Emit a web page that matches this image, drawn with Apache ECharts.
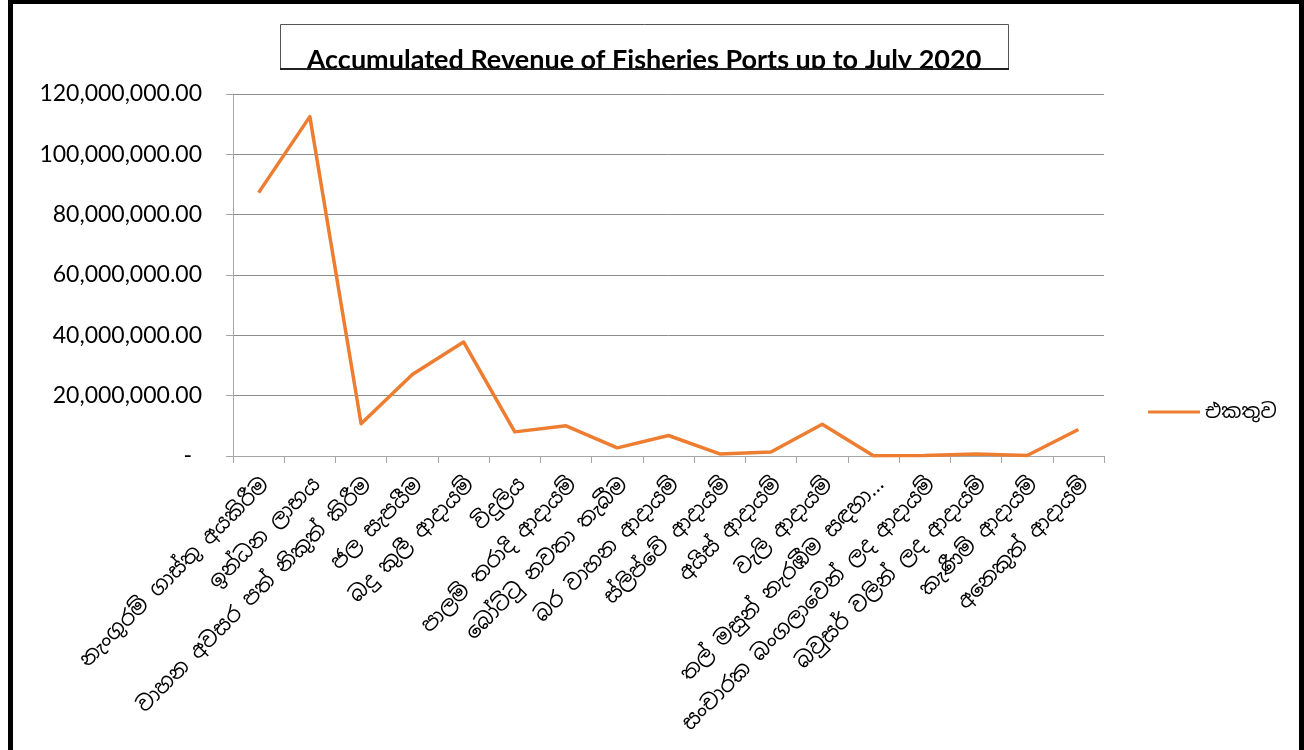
<!DOCTYPE html>
<html>
<head>
<meta charset="utf-8">
<script src="https://cdn.jsdelivr.net/npm/echarts@6/dist/echarts.min.js"></script>
<style>
  html, body { margin: 0; padding: 0; background: #fff; }
  #chart { width: 1304px; height: 750px; }
</style>
</head>
<body>
<div id="chart"></div>
<script>
// Revenue categories (Sinhala)
const categories = [
  'නැංගුරම් ගාස්තු අයකිරීම',
  'ඉන්ධන ලාභය',
  'වාහන අවසර පත් නිකුත් කිරීම',
  'ජල සැපයීම',
  'බදු කුලී ආදායම්',
  'විදුලිය',
  'පාලම් තරාදි ආදායම්',
  'බෝට්ටු නවතා තැබීම',
  'බර වාහන ආදායම්',
  'ස්ලිප්වේ ආදායම්',
  'අයිස් ආදායම්',
  'වැලි ආදායම්',
  'තල් මසුන් නැරඹීම සඳහා…',
  'සංචාරක බංගලාවෙන් ලද ආදායම්',
  'බවුසර් වලින් ලද ආදායම්',
  'කැණීම් ආදායම්',
  'අනෙකුත් ආදායම්'
];

// Accumulated revenue (Rs.)
const totals = [
  87300000, 112500000, 10700000, 27000000, 37800000, 8000000,
  10000000, 2700000, 6800000, 700000, 1300000, 10500000,
  100000, 200000, 700000, 150000, 8800000
];

const seriesName = 'එකතුව';
const titleText = 'Accumulated Revenue of Fisheries Ports up to July 2020';

const yMin = 0, yMax = 120000000, yStep = 20000000;

const sinhalaFont = '"Noto Sans Sinhala", "Noto Serif Sinhala", "Iskoola Pota", "Noto Sans", sans-serif';
const numFont = 'Lato, "Open Sans", sans-serif';

const chart = echarts.init(document.getElementById('chart'), null, { renderer: 'canvas' });

chart.setOption({
  backgroundColor: '#fff',
  animation: false,
  grid: { left: 233, right: 200, top: 94, bottom: 294, containLabel: false },
  legend: {
    left: 1143, top: 397,
    itemWidth: 52, itemHeight: 14, itemGap: 4,
    icon: 'path://M0,6 L52,6 L52,9 L0,9 Z',
    textStyle: { fontFamily: sinhalaFont, fontSize: 20, color: '#000' },
    data: [seriesName]
  },
  xAxis: {
    type: 'category',
    data: categories,
    boundaryGap: true,
    axisLine: { lineStyle: { color: '#a6a6a6', width: 1 } },
    axisTick: { show: true, length: 7, alignWithLabel: false, lineStyle: { color: '#a6a6a6' } },
    axisLabel: {
      interval: 0, rotate: 45, margin: 18,
      verticalAlign: 'top',
      fontFamily: sinhalaFont, fontSize: 21, color: '#000'
    }
  },
  yAxis: {
    type: 'value',
    min: yMin, max: yMax, interval: yStep,
    axisLine: { show: true, lineStyle: { color: '#a6a6a6', width: 1 } },
    axisTick: { show: true, length: 7, lineStyle: { color: '#a6a6a6' } },
    splitLine: { lineStyle: { color: '#8c8c8c', width: 1 } },
    axisLabel: {
      margin: 31,
      fontFamily: numFont, fontSize: 23, color: '#000',
      formatter: function (v) {
        if (v === 0) return '{z|-}';
        return v.toLocaleString('en-US', { minimumFractionDigits: 2, maximumFractionDigits: 2 });
      },
      rich: { z: { fontFamily: numFont, fontSize: 23, color: '#000', padding: [0, 10, 0, 0] } }
    }
  },
  series: [{
    name: seriesName,
    type: 'line',
    data: totals,
    showSymbol: false,
    symbol: 'none',
    lineStyle: { color: '#ed7d31', width: 3.5, join: 'round' },
    itemStyle: { color: '#ed7d31' }
  }],
  graphic: [
    // outer frame
    { type: 'rect', shape: { x: 8, y: 0, width: 5, height: 750 }, style: { fill: '#000' }, z: 100 },
    { type: 'rect', shape: { x: 8, y: 0, width: 1296, height: 4 }, style: { fill: '#000' }, z: 100 },
    { type: 'rect', shape: { x: 1299, y: 0, width: 5, height: 750 }, style: { fill: '#000' }, z: 100 },
    // title box; the heading sits low so its descenders run under the bottom edge
    { type: 'rect', shape: { x: 280.5, y: 24.5, width: 728, height: 45 }, style: { fill: '#fff', stroke: '#555', lineWidth: 1 }, z: 50 },
    { type: 'text', x: 644, y: 60, z: 51,
      style: { text: titleText, fill: '#000', font: 'bold 27px Lato, "Open Sans", sans-serif', align: 'center', verticalAlign: 'middle' } },
    { type: 'rect', shape: { x: 281, y: 69, width: 727, height: 12 }, style: { fill: '#fff' }, z: 52 },
    { type: 'rect', shape: { x: 280, y: 68, width: 729, height: 2 }, style: { fill: '#222' }, z: 53 }
  ]
});
</script>
</body>
</html>
